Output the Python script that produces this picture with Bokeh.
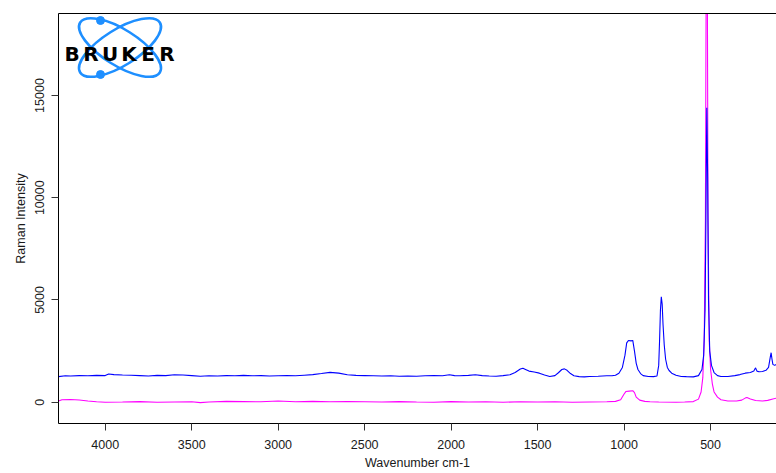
from bokeh.plotting import figure
from bokeh.models import Range1d, FixedTicker, LinearAxis, ColumnDataSource
from bokeh.core.properties import value
from bokeh.embed import file_html
from bokeh.resources import INLINE

# ---------------- data ----------------
x_ticks = [500, 1000, 1500, 2000, 2500, 3000, 3500, 4000]
y_ticks = [0, 5000, 10000, 15000]

blue_wn = [4270, 4230, 4200, 4150, 4100, 4050, 4000, 3980, 3950, 3900, 3850, 3800,
           3750, 3700, 3650, 3600, 3550, 3500, 3450, 3400, 3350, 3300, 3250, 3200,
           3150, 3100, 3050, 3000, 2950, 2900, 2850, 2800, 2750, 2700, 2650, 2600,
           2550, 2500, 2450, 2400, 2350, 2300, 2250, 2200, 2150, 2100, 2050, 2010,
           1980, 1950, 1900, 1860, 1820, 1780, 1740, 1700, 1660, 1630, 1600, 1585,
           1570, 1550, 1520, 1490, 1460, 1430, 1400, 1380, 1360, 1345, 1330, 1310,
           1290, 1260, 1230, 1200, 1150, 1100, 1070, 1050, 1030, 1010, 995, 985,
           975, 960, 950, 940, 930, 920, 905, 890, 860, 830, 810, 800, 795, 790,
           785, 780, 775, 768, 760, 750, 740, 725, 700, 670, 640, 600, 570, 550,
           540, 532, 527, 522, 517, 512, 505, 495, 480, 460, 440, 400, 360, 330,
           300, 270, 250, 240, 232, 220, 200, 180, 165, 155, 150, 145, 140, 130, 119]
blue_int = [1250, 1290, 1280, 1300, 1290, 1310, 1300, 1380, 1350, 1330, 1320, 1300,
            1280, 1310, 1300, 1340, 1330, 1300, 1270, 1290, 1280, 1300, 1290, 1310,
            1290, 1300, 1280, 1290, 1300, 1290, 1320, 1350, 1400, 1460, 1420, 1340,
            1310, 1300, 1290, 1280, 1290, 1270, 1280, 1270, 1290, 1300, 1290, 1340,
            1300, 1290, 1310, 1340, 1300, 1280, 1270, 1300, 1340, 1450, 1620, 1660,
            1600, 1520, 1480, 1420, 1330, 1260, 1300, 1440, 1600, 1630, 1560, 1400,
            1290, 1250, 1240, 1260, 1270, 1290, 1290, 1320, 1420, 1700, 2300, 2900,
            3020, 3000, 3020, 2500, 1900, 1600, 1400, 1300, 1260, 1250, 1280, 1800, 3000, 4500,
            5150, 4800, 3800, 2800, 2100, 1700, 1550, 1420, 1320, 1260, 1250, 1240, 1300, 1600,
            2300, 4500, 9000, 14400, 11000, 5000, 2500, 1800, 1450, 1300, 1260, 1260, 1300, 1350,
            1420, 1450, 1520, 1680, 1520, 1490, 1500, 1560, 1700, 2200, 2420, 2100, 1850, 1800, 1850]

mag_wn = [4270, 4250, 4200, 4150, 4100, 4050, 4000, 3900, 3800, 3700, 3600, 3500,
          3450, 3400, 3300, 3200, 3100, 3000, 2900, 2800, 2700, 2600, 2500, 2400,
          2300, 2200, 2100, 2000, 1900, 1800, 1700, 1600, 1500, 1400, 1300, 1200,
          1100, 1050, 1020, 1000, 990, 970, 950, 940, 930, 910, 880, 850, 800, 700,
          650, 600, 570, 555, 545, 537, 530, 522, 515, 508, 500, 490, 480, 460, 440,
          400, 350, 320, 300, 290, 270, 240, 200, 170, 140, 119]
mag_int = [60, 120, 130, 110, 60, 20, 0, 10, 30, 0, 10, 20,
           -20, 10, 40, 30, 20, 60, 20, 40, 20, 30, 20, 10,
           30, 10, 0, 30, 10, 20, 0, 20, 10, 20, 0, 10,
           20, 40, 120, 400, 520, 540, 560, 470, 250, 100, 40, 20, 10, 0,
           10, 30, 150, 500, 1200, 3000, 9000, 30000, 9000, 3000, 1600, 900, 500, 250, 120,
           60, 60, 100, 200, 230, 160, 80, 60, 90, 160, 200]

# ---------------- figure ----------------
X0, X1 = 4270, 119
Y0, Y1 = -1042, 19010
p = figure(width=776, height=473, x_range=Range1d(X0, X1), y_range=Range1d(Y0, Y1),
           output_backend="svg", toolbar_location=None,
           min_border_left=58, min_border_right=0, min_border_top=13, min_border_bottom=50)
p.background_fill_color = "white"
p.border_fill_color = "white"
p.outline_line_color = None
p.grid.visible = False

FONT = "Liberation Sans"
for ax in (p.xaxis[0], p.yaxis[0]):
    ax.major_tick_out = 7
    ax.major_tick_in = 0
    ax.minor_tick_out = 0
    ax.minor_tick_in = 0
    ax.axis_line_color = "black"
    ax.major_tick_line_color = "#333333"
    ax.major_label_text_font = FONT
    ax.major_label_text_font_size = "12.5px"
    ax.major_label_text_color = "#1a1a1a"
    ax.axis_label_text_font = FONT
    ax.axis_label_text_font_size = "12.5px"
    ax.axis_label_text_font_style = "normal"
    ax.axis_label_text_color = "#1a1a1a"

p.xaxis.ticker = FixedTicker(ticks=x_ticks)
p.yaxis.ticker = FixedTicker(ticks=y_ticks)
p.xaxis.axis_label = "Wavenumber cm-1"
p.yaxis.axis_label = "Raman Intensity"
p.xaxis.major_label_standoff = 9
p.xaxis.axis_label_standoff = 4
p.yaxis.major_label_standoff = 7
p.yaxis.axis_label_standoff = 5
p.yaxis.major_label_orientation = "vertical"

top_axis = LinearAxis(ticker=FixedTicker(ticks=[]), major_tick_out=0, minor_tick_out=0,
                      major_label_text_font_size="0px", axis_line_color="black")
p.add_layout(top_axis, "above")

# spectra
src_m = ColumnDataSource(dict(x=mag_wn, y=mag_int))
src_b = ColumnDataSource(dict(x=blue_wn, y=blue_int))
p.line("x", "y", source=src_m, line_color="#ff00ff", line_width=1.1)
p.line("x", "y", source=src_b, line_color="#0000ff", line_width=1.1)

# ---------------- logo (positioned in pixel terms of the plot frame) ----------------
FR_L, FR_T, FR_R, FR_B = 58, 13, 776, 423
def px_x(px):
    return X0 + (px - FR_L) * (X1 - X0) / (FR_R - FR_L)
def px_y(py):
    return Y1 - (py - FR_T) * (Y1 - Y0) / (FR_B - FR_T)

logo_blue = "#1e8fff"
p.ellipse(x=[px_x(119.5)] * 2, y=[px_y(47)] * 2, width=94, height=36,
          width_units="screen", height_units="screen", angle=[-0.56, 0.56],
          fill_color=None, line_color=logo_blue, line_width=2.6)
p.scatter(x=[px_x(100), px_x(100)], y=[px_y(20), px_y(74)], size=8,
          fill_color=logo_blue, line_color=logo_blue)
letters = list("BRUKER")
p.text(x=[px_x(71.5 + 19 * i) for i in range(6)], y=[px_y(53.5)] * 6, text=letters,
       text_align="center", text_baseline="alphabetic",
       text_font=value("DejaVu Sans"), text_font_style="bold",
       text_font_size="20px", text_color="black")

open("out.html", "w").write(file_html(p, INLINE))
